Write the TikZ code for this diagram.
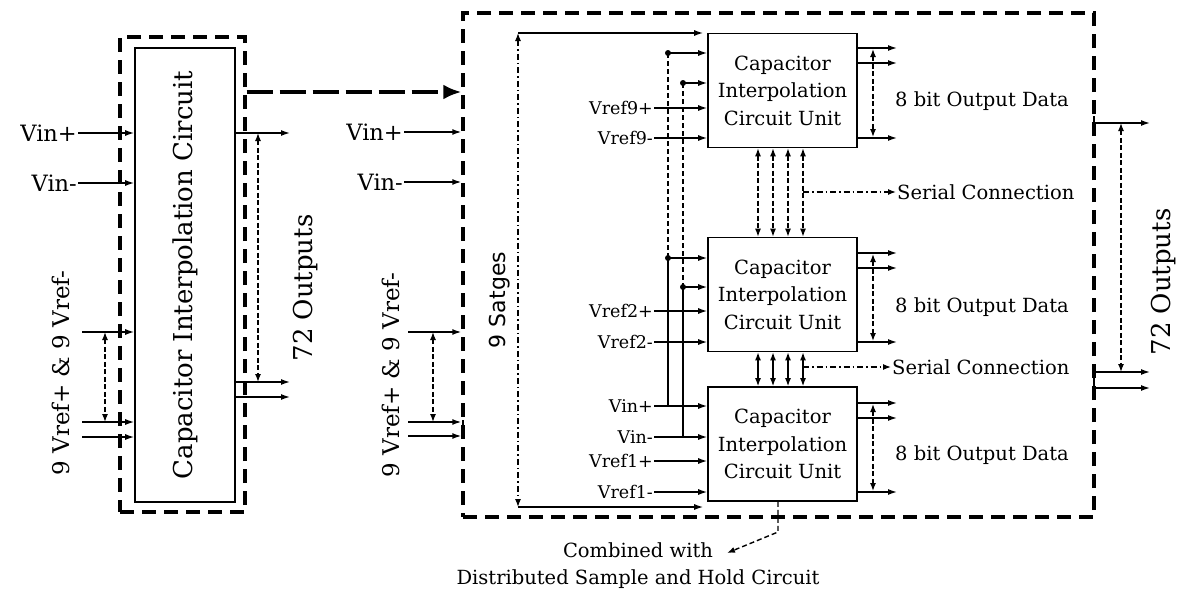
\documentclass[tikz,border=0pt]{standalone}
\usepackage{fontspec}
\setmainfont{DejaVu Serif}
\newfontfamily\sansf{DejaVu Sans}
\usetikzlibrary{arrows.meta,calc}
\newcommand\fsz[2]{\fontsize{#1}{#2}\selectfont}
\begin{document}
\begin{tikzpicture}[x=1pt,y=-1pt,
  ln/.style={line width=1.4pt},
  arr/.style={line width=1.4pt,-{Latex[length=9pt,width=6pt]}},
  dda/.style={line width=1.3pt,dash pattern=on 5pt off 2.5pt,{Latex[length=8pt,width=6pt]}-{Latex[length=8pt,width=6pt]}},
  sda/.style={line width=1.4pt,{Latex[length=8pt,width=6pt]}-{Latex[length=8pt,width=6pt]}},
  dashdot/.style={line width=1.2pt,dash pattern=on 6pt off 3pt on 1.5pt off 3pt},
  dbox/.style={draw,line width=3.4pt,dash pattern=on 14pt off 8pt},
  unit/.style={draw,line width=1.6pt,minimum width=149pt,minimum height=114pt,align=center,font=\fsz{19.5}{27.5},inner sep=0pt},
  big/.style={font=\fsz{22.5}{26},inner sep=1pt,anchor=east},
  lab/.style={font=\fsz{17.5}{20},inner sep=1pt,anchor=east},
  txt/.style={font=\fsz{19.5}{27}},
  dot/.style={circle,fill,inner sep=0pt,minimum size=6pt}
  ]
\useasboundingbox (0,0) rectangle (1184,597);

% ---------- left block ----------
\node[dbox,minimum width=125pt,minimum height=475pt] (lbox) at (182.5,274.5) {};
\node[draw,line width=1.6pt,minimum width=100pt,minimum height=454pt] (cic) at (185,275) {};
\node[rotate=90,font=\fsz{26}{30}] (cictxt) at (cic.center) {Capacitor Interpolation Circuit};

\node[big] (lvinp) at (78,133) {Vin+};
\node[big] (lvinm) at (78,183) {Vin-};
\draw[arr] (lvinp.east) -- (lvinp.east -| cic.west);
\draw[arr] (lvinm.east) -- (lvinm.east -| cic.west);

\coordinate (lr1) at (82,332);
\coordinate (lr2) at (82,422);
\coordinate (lr3) at (82,437);
\draw[arr] (lr1) -- (lr1 -| cic.west);
\draw[arr] (lr2) -- (lr2 -| cic.west);
\draw[arr] (lr3) -- (lr3 -| cic.west);
\draw[dda] (105,332) -- (105,422);
\node[rotate=90,font=\fsz{23}{27}] (lvref) at (61,373) {9 Vref+ \& 9 Vref-};

\coordinate (lo1) at (290,133);
\coordinate (lo2) at (290,382);
\coordinate (lo3) at (290,397);
\draw[arr] (lo1 -| cic.east) -- (lo1);
\draw[arr] (lo2 -| cic.east) -- (lo2);
\draw[arr] (lo3 -| cic.east) -- (lo3);
\draw[dda] (258,133) -- (258,382);
\node[rotate=90,font=\fsz{26}{30}] (lout) at (306,288) {72 Outputs};

% ---------- right block ----------
\node[dbox,minimum width=631pt,minimum height=504pt] (rbox) at (778.5,265) {};

\coordinate (by) at (0,92);
\draw[line width=3.4pt,dash pattern=on 26pt off 7pt,-{Latex[length=18pt,width=15pt]}] (lbox.east |- by) -- (rbox.west |- by);

\node[big] (rvinp) at (404,132) {Vin+};
\node[big] (rvinm) at (404,182) {Vin-};
\draw[arr] (rvinp.east) -- (rvinp.east -| rbox.west);
\draw[arr] (rvinm.east) -- (rvinm.east -| rbox.west);

\coordinate (rr1) at (408,332);
\coordinate (rr2) at (408,422);
\coordinate (rr3) at (408,436);
\draw[arr] (rr1) -- (rr1 -| rbox.west);
\draw[arr] (rr2) -- (rr2 -| rbox.west);
\draw[arr] (rr3) -- (rr3 -| rbox.west);
\draw[ln] (463,420) -- (463,438);
\draw[dda] (433,332) -- (433,422);
\node[rotate=90,font=\fsz{23}{27}] (rvref) at (391,375) {9 Vref+ \& 9 Vref-};

% units
\node[unit] (u9) at (782.5,90.5) {Capacitor\\Interpolation\\Circuit Unit};
\node[unit] (u2) at (782.5,294.5) {Capacitor\\Interpolation\\Circuit Unit};
\node[unit] (u1) at (782.5,444) {Capacitor\\Interpolation\\Circuit Unit};

% 9 stages
\coordinate (st) at (518,33);
\coordinate (sb) at (518,507);
\draw[dashdot,{Latex[length=8pt,width=6pt]}-{Latex[length=8pt,width=6pt]}] (st) -- (sb);
\draw[arr,shorten >=4pt] (st) -- (st -| u9.west);
\draw[arr,shorten >=4pt] (sb) -- (sb -| u1.west);
\node[rotate=90,font={\sansf\fsz{22}{26}}] (stl) at (500,300) {9 Satges};

% unit 9 inputs
\node[dot] (d9a) at (668,53) {};
\node[dot] (d9b) at (683,83) {};
\draw[arr] (d9a.center) -- (d9a.center -| u9.west);
\draw[arr] (d9b.center) -- (d9b.center -| u9.west);
\node[lab] (v9p) at (654,108) {Vref9+};
\node[lab] (v9m) at (654,138) {Vref9-};
\draw[arr] (v9p.east) -- (v9p.east -| u9.west);
\draw[arr] (v9m.east) -- (v9m.east -| u9.west);

% unit 2 inputs
\node[dot] (d2a) at (668,258) {};
\node[dot] (d2b) at (683,287) {};
\draw[ln,dash pattern=on 5pt off 3pt] (d9a.center) -- (d2a.center);
\draw[ln,dash pattern=on 5pt off 3pt] (d9b.center) -- (d2b.center);
\draw[arr] (d2a.center) -- (d2a.center -| u2.west);
\draw[arr] (d2b.center) -- (d2b.center -| u2.west);
\node[lab] (v2p) at (654,311) {Vref2+};
\node[lab] (v2m) at (654,342) {Vref2-};
\draw[arr] (v2p.east) -- (v2p.east -| u2.west);
\draw[arr] (v2m.east) -- (v2m.east -| u2.west);

% unit 1 inputs
\node[lab] (v1ip) at (654,406) {Vin+};
\node[lab] (v1im) at (654,437) {Vin-};
\node[lab] (v1p) at (654,461) {Vref1+};
\node[lab] (v1m) at (654,492) {Vref1-};
\draw[arr] (v1ip.east) -- (v1ip.east -| u1.west);
\draw[arr] (v1im.east) -- (v1im.east -| u1.west);
\draw[arr] (v1p.east) -- (v1p.east -| u1.west);
\draw[arr] (v1m.east) -- (v1m.east -| u1.west);
\draw[ln] (d2a.center) -- (d2a.center |- v1ip.east);
\draw[ln] (d2b.center) -- (d2b.center |- v1im.east);

% interconnects
\foreach \x in {758,773,788,803} {
  \draw[dda] (u9.south -| \x,0) -- (u2.north -| \x,0);
  \draw[sda] (u2.south -| \x,0) -- (u1.north -| \x,0);
}
\node[txt,anchor=west,inner sep=1pt] (sc1) at (896,192) {Serial Connection};
\node[txt,anchor=west,inner sep=1pt] (sc2) at (891,367) {Serial Connection};
\draw[dashdot,-{Latex[length=8pt,width=6pt]}] (803,192) -- (sc1.west);
\draw[dashdot,-{Latex[length=8pt,width=6pt]}] (803,367) -- (sc2.west);

% unit outputs
\foreach \u/\a/\b/\c in {u9/48/63/138,u2/253/268/342,u1/403/418/492} {
  \draw[arr] (\u.east |- 0,\a) -- (897,\a);
  \draw[arr] (\u.east |- 0,\b) -- (897,\b);
  \draw[arr] (\u.east |- 0,\c) -- (897,\c);
}
\draw[dda] (873,49) -- (873,137);
\draw[dda] (873,254) -- (873,341);
\draw[dda] (873,404) -- (873,491);
\node[txt] (ob9) at (982,101) {8 bit Output Data};
\node[txt] (ob2) at (982,307) {8 bit Output Data};
\node[txt] (ob1) at (982,455) {8 bit Output Data};

% right outputs
\coordinate (ro1) at (1150,123);
\coordinate (ro2) at (1150,372);
\coordinate (ro3) at (1150,388);
\draw[arr] (ro1 -| rbox.east) -- (ro1);
\draw[arr] (ro2 -| rbox.east) -- (ro2);
\draw[arr] (ro3 -| rbox.east) -- (ro3);
\draw[ln] (1094,116) -- (1094,131);
\draw[ln] (1094,368) -- (1094,391);
\draw[dda] (1121,123) -- (1121,372);
\node[rotate=90,font=\fsz{26}{30}] (rout) at (1164,282) {72 Outputs};

% bottom note
\node[txt,align=center] (comb) at (638,566) {Combined with\\Distributed Sample and Hold Circuit};
\coordinate (bk) at (778,532);
\coordinate (ct) at (727,553);
\draw[ln,dash pattern=on 5pt off 3pt,-{Latex[length=8pt,width=6pt]}] (u1.south -| bk) -- (bk) -- (ct);
\end{tikzpicture}
\end{document}
